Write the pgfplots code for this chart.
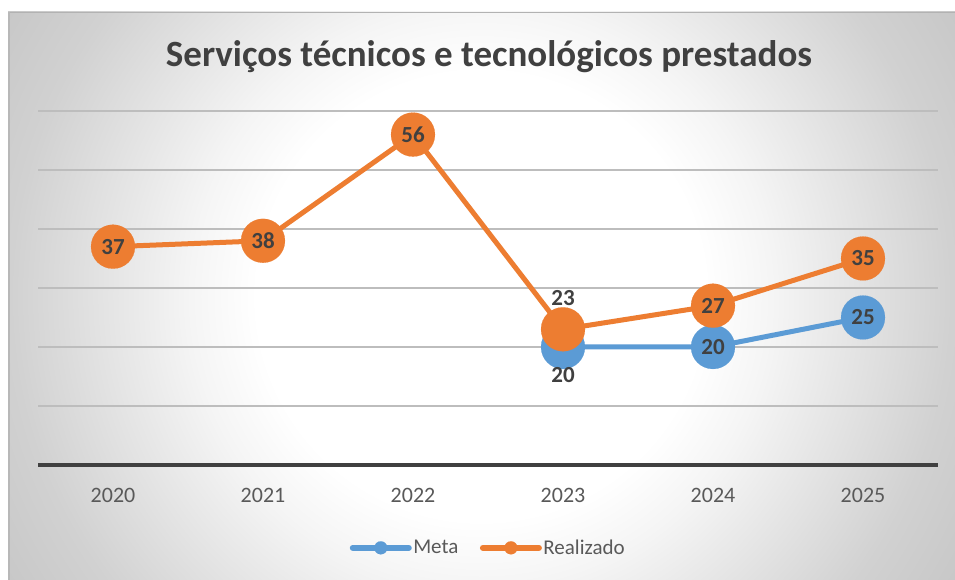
\documentclass[border=0pt]{standalone}
\usepackage{fontspec}
\setmainfont{Carlito}
\usepackage{pgfplots}
\pgfplotsset{compat=1.18}
\definecolor{cOrange}{HTML}{ED7D31}
\definecolor{cBlue}{HTML}{5B9BD5}
\definecolor{cText}{HTML}{404040}
\definecolor{cTitle}{HTML}{595959}
\definecolor{cGrid}{HTML}{BDBDBD}
\pgfdeclareradialshading{bgshade}{\pgfpoint{0bp}{0bp}}{color(0bp)=(white); color(10bp)=(white); color(13bp)=(black!4); color(21bp)=(black!18); color(25bp)=(black!22); color(50bp)=(black!22)}
\begin{document}
\begin{tikzpicture}[x=1pt,y=1pt]
\fill[white] (0,0) rectangle (955,580);
\begin{scope}
\clip (8,0) rectangle (955,568);
\shade[shading=bgshade] (481,284) circle (560);
\end{scope}
\draw[black!30, line width=1pt] (8,567.5) -- (955,567.5);
\draw[black!28, line width=1.5pt] (8.75,0) -- (8.75,568);
\node[font=\fontsize{37}{42}\selectfont\bfseries, text=cText] at (489,523) {Serviços técnicos e tecnológicos prestados};
\begin{axis}[
  at={(38pt,115pt)}, anchor=south west, scale only axis,
  width=900pt, height=354pt,
  xmin=-0.5, xmax=5.5, ymin=0, ymax=60, clip=false,
  axis line style={draw=none}, tick style={draw=none},
  /pgf/number format/assume math mode=true,
  ytick={10,20,...,60}, yticklabels={},
  ymajorgrids, grid style={cGrid, line width=1.2pt},
  extra y ticks={0}, extra y tick labels={},
  extra y tick style={grid style={cText, line width=3.5pt}},
  xtick={0,...,5}, xticklabels={2020,2021,2022,2023,2024,2025},
  xticklabel style={font=\fontsize{22}{26}\selectfont, text=cTitle, anchor=center, yshift=-30pt},
  legend style={at={(0.5,-0.234)}, anchor=center, draw=none, fill=none,
    legend columns=2, font=\fontsize{21}{25}\selectfont, text=cTitle,
    nodes={inner sep=1.5pt}, /tikz/every even column/.append style={column sep=20pt}},
  legend cell align=left,
  legend image code/.code={\draw[#1,mark=none,line cap=round] (0pt,0pt)--(56pt,0pt);
    \draw[#1,only marks] plot coordinates {(28pt,0pt)};},
]
\addlegendimage{cBlue, line width=6pt, mark=*, mark size=6.5pt, mark options={solid, fill=cBlue, line width=0.1pt}}
\addlegendentry{Meta}
\addlegendimage{cOrange, line width=6pt, mark=*, mark size=6.5pt, mark options={solid, fill=cOrange, line width=0.1pt}}
\addlegendentry{Realizado}
\addplot[forget plot, cBlue, line width=5pt, mark=*, mark size=22pt, mark options={fill=cBlue, line width=0.1pt}]
  coordinates {(3,20) (4,20) (5,25)};
\addplot[forget plot, cOrange, line width=5pt, mark=*, mark size=22pt, mark options={fill=cOrange, line width=0.1pt}]
  coordinates {(0,37) (1,38) (2,56) (3,23) (4,27) (5,35)};
\addplot[forget plot, draw=none, mark=none, nodes near coords, point meta=y,
  nodes near coords style={anchor=center, font=\fontsize{23}{27}\selectfont\bfseries, text=cText}]
  coordinates {(4,20) (5,25) (0,37) (1,38) (2,56) (4,27) (5,35)};
\addplot[forget plot, draw=none, mark=none, nodes near coords, point meta=y,
  nodes near coords style={anchor=center, yshift=31pt, font=\fontsize{23}{27}\selectfont\bfseries, text=cText}]
  coordinates {(3,23)};
\addplot[forget plot, draw=none, mark=none, nodes near coords, point meta=y,
  nodes near coords style={anchor=center, yshift=-28pt, font=\fontsize{23}{27}\selectfont\bfseries, text=cText}]
  coordinates {(3,20)};
\end{axis}
\pgfresetboundingbox
\useasboundingbox (0,0) rectangle (955,580);
\end{tikzpicture}
\end{document}
